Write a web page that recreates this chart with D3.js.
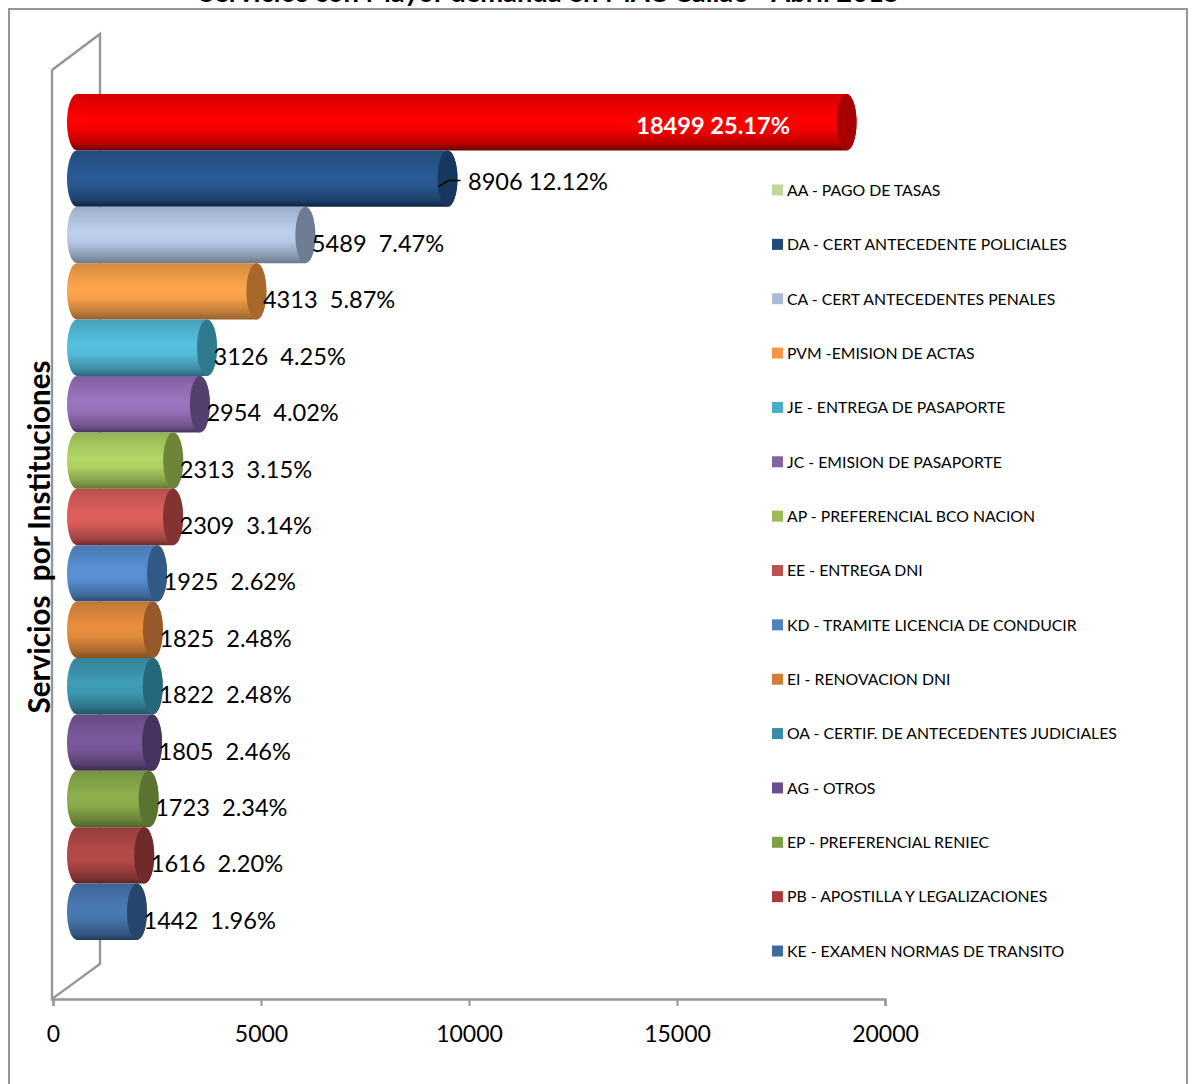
<!DOCTYPE html>
<html><head><meta charset="utf-8">
<style>html,body{margin:0;padding:0;background:#fff;overflow:hidden}svg{display:block}text{white-space:pre;font-family:Lato,"Open Sans",sans-serif;fill:#000}</style>
<script src="https://cdn.jsdelivr.net/npm/d3@7"></script></head><body>
<script>
const chartTitle = "Servicios con Mayor demanda en MAC Callao - Abril 2015";
const axisTitle = "Servicios  por Instituciones";
const categories = ["AA - PAGO DE TASAS","DA - CERT ANTECEDENTE POLICIALES","CA - CERT ANTECEDENTES PENALES","PVM -EMISION DE ACTAS","JE - ENTREGA DE PASAPORTE","JC - EMISION DE PASAPORTE","AP - PREFERENCIAL BCO NACION","EE - ENTREGA DNI","KD - TRAMITE LICENCIA DE CONDUCIR","EI - RENOVACION DNI","OA - CERTIF. DE ANTECEDENTES JUDICIALES","AG - OTROS","EP - PREFERENCIAL RENIEC","PB - APOSTILLA Y LEGALIZACIONES","KE - EXAMEN NORMAS DE TRANSITO"];
const values = [18499,8906,5489,4313,3126,2954,2313,2309,1925,1825,1822,1805,1723,1616,1442];
const percents = ["25.17%","12.12%","7.47%","5.87%","4.25%","4.02%","3.15%","3.14%","2.62%","2.48%","2.48%","2.46%","2.34%","2.20%","1.96%"];
const bodyColors = ["#ff0000","#2a5a95","#bdd0ee","#ffa64d","#55c1e0","#9b75bf","#b3d666","#e05f5c","#5a91d6","#e88f3e","#3f9db6","#7a5a9c","#8fb04d","#b54a48","#4a7ab5"];
const edgeColors = ["#6a0000","#0e2340","#6b7a90","#94602c","#2a6a7e","#4a3560","#5f7a30","#742c2c","#2a4d78","#85501f","#1f5768","#3a2a50","#4f6628","#5f2424","#203c60"];
const capColors = ["#a80000","#17375e","#6f7d94","#a8682b","#2f7a8f","#553f6e","#6c8539","#853232","#315a87","#96592a","#26687b","#463360","#5a7330","#6f2a2a","#27466c"];
const legendColors = ["#c3d69b","#1f497d","#a9bbd9","#f79646","#4bacc6","#8064a2","#9bbb59","#c0504d","#4f81bd","#d07f38","#3a8ca6","#6a4e90","#7f9f4a","#a43e3c","#3f6a9e"];
const ticks = [0,5000,10000,15000,20000];

const W=1192,H=1084,gray="#969696";
const svg=d3.select("body").append("svg").attr("width",W).attr("height",H);
const defs=svg.append("defs");
const x=d3.scaleLinear().domain([0,20000]).range([53,885]);
const y=d3.scaleBand().domain(categories).range([94,940]);
const depth=24, rx=10;

svg.append("rect").attr("x",9).attr("y",9).attr("width",1178).attr("height",1090).attr("fill","none").attr("stroke",gray).attr("stroke-width",2);
svg.append("text").attr("x",549.5).attr("y",2).attr("text-anchor","middle").attr("font-size",27.3).attr("font-weight",700).text(chartTitle);

// back wall
svg.append("path").attr("d",d3.line()([[52,70],[100,34],[100,964],[52,999],[52,70]])).attr("fill","none").attr("stroke",gray).attr("stroke-width",2.4);

// axis
const ax=svg.append("g").attr("transform","translate(0,999)").call(d3.axisBottom(x).tickValues(ticks).tickSize(7).tickPadding(20).tickFormat(d3.format("d")));
ax.select(".domain").attr("stroke",gray).attr("stroke-width",2.4);
ax.selectAll(".tick line").attr("stroke",gray).attr("stroke-width",2);
ax.selectAll(".tick text").attr("font-size",23).style("font-family","Lato");

// cylinders
const data=categories.map((c,i)=>({c,i,v:values[i],p:percents[i]}));
data.forEach(d=>{
  const g=defs.append("linearGradient").attr("id","g"+d.i).attr("x1",0).attr("y1",0).attr("x2",0).attr("y2",1);
  const mid=d3.color(bodyColors[d.i]), top=mid.darker(0.55);
  [[0,top],[.12,mid.darker(.35)],[.45,mid],[.62,mid.darker(.1)],[.88,mid.darker(.9)],[1,edgeColors[d.i]]].forEach(s=>g.append("stop").attr("offset",s[0]).attr("stop-color",s[1]));
});
const bars=svg.append("g").selectAll("g").data(data).join("g");
bars.append("path").attr("fill",d=>`url(#g${d.i})`).attr("d",d=>{
  const t=y(d.c),h=y.bandwidth(),x0=x(0)+depth,x1=x(d.v)+depth;
  return `M${x0},${t}L${x1},${t}A${rx},${h/2} 0 0 1 ${x1},${t+h}L${x0},${t+h}A${rx},${h/2} 0 0 1 ${x0},${t}Z`;
});
bars.append("ellipse").attr("cx",d=>x(d.v)+depth).attr("cy",d=>y(d.c)+y.bandwidth()/2).attr("rx",rx).attr("ry",y.bandwidth()/2).attr("fill",d=>capColors[d.i]);

// labels
svg.append("g").selectAll("text").data(data).join("text")
  .attr("font-size",23.6)
  .attr("font-weight",d=>d.i===0?700:400)
  .style("fill",d=>d.i===0?"#fff":"#000")
  .attr("text-anchor",d=>d.i===0?"end":"start")
  .attr("dominant-baseline","central")
  .attr("x",d=>d.i===0?x(d.v)+depth-56.5:d.i===1?x(d.v)+depth+20.5:x(d.v)+depth+6.5)
  .attr("y",d=>y(d.c)+y.bandwidth()/2+(d.i===0?3:d.i===1?2:8))
  .text(d=>d.i<2?`${d.v} ${d.p}`:`${d.v}  ${d.p}`);

// leader line of the second bar
const lead=data[1], lx=x(lead.v)+depth, ly=y(lead.c)+y.bandwidth()/2;
svg.append("path").attr("d",d3.line()([[lx-9,ly+8],[lx+1,ly+2],[lx+13,ly+2]])).attr("fill","none").attr("stroke","#000").attr("stroke-width",1.5);

// legend
const ly2=d3.scalePoint().domain(categories).range([190,951]);
const leg=svg.append("g").selectAll("g").data(data).join("g").attr("transform",d=>`translate(772,${ly2(d.c)})`);
leg.append("rect").attr("x",0).attr("y",-5.5).attr("width",11).attr("height",11).attr("fill",d=>legendColors[d.i]);
leg.append("text").attr("x",15).attr("y",-0.7).attr("dominant-baseline","central").attr("font-size",15.8).text(d=>d.c);

// value axis title
svg.append("text").attr("transform","translate(38.5,537) rotate(-90)").attr("text-anchor","middle").attr("dominant-baseline","central").attr("font-size",29.6).attr("font-weight",700).text(axisTitle);
</script></body></html>
